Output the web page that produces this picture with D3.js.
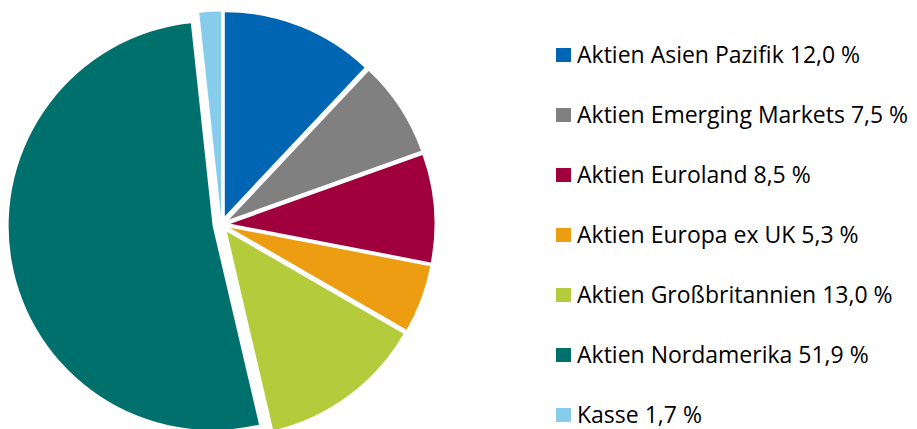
<!DOCTYPE html>
<html>

<head>
  <meta charset="utf-8">
  <style>
    body,
    html {
      margin: 0;
      padding: 0;
      background: #fff;
    }

    svg {
      display: block;
    }

    .legend text {
      font-family: "Open Sans", "Noto Sans", sans-serif;
      font-variant-ligatures: none;
      fill: #000;
    }
  </style>
</head>

<body>

  <svg id="svg" width="917" height="429"></svg>

  <script src="https://d3js.org/d3.v7.min.js"></script>

  <script>
    const names = ['Aktien Asien Pazifik', 'Aktien Emerging Markets', 'Aktien Euroland', 'Aktien Europa ex UK',
      'Aktien Gro\u00dfbritannien', 'Aktien Nordamerika', 'Kasse']
    const shares = [12.0, 7.5, 8.5, 5.3, 13.0, 51.9, 1.7]
    const labels = ['12,0 %', '7,5 %', '8,5 %', '5,3 %', '13,0 %', '51,9 %', '1,7 %']
    const colors = ['#0066b3', '#808080', '#a0003c', '#ec9d12', '#b4cb3c', '#00706c', '#87cdeb']

    const width = 917
    const height = 429
    const cx = 221.5
    const cy = 224.5
    const radius = 204
    const explode = 9

    const data = names.map((name, i) => ({ name, value: shares[i], label: labels[i], color: colors[i] }))

    const svg = d3.select("#svg")

    const pie = d3.pie()
      .sort(null)
      .value(d => d.value)

    const arc = d3.arc()
      .innerRadius(0)
      .outerRadius(radius)

    const graph = svg.append("g")
      .attr("transform", `translate(${cx}, ${cy})`)

    graph.selectAll("path")
      .data(pie(data))
      .join("path")
      .attr("d", arc)
      .attr("fill", d => d.data.color)
      .attr("transform", d => {
        const mid = (d.startAngle + d.endAngle) / 2
        return `translate(${explode * Math.sin(mid)}, ${-explode * Math.cos(mid)})`
      })

    // legend
    const legendY = d3.scalePoint()
      .domain(names)
      .range([55, 415])

    const legend = svg.append("g").attr("class", "legend")

    const rows = legend.selectAll("g")
      .data(data)
      .join("g")
      .attr("transform", d => `translate(556, ${legendY(d.name)})`)

    rows.append("rect")
      .attr("x", 0)
      .attr("y", -7)
      .attr("width", 15)
      .attr("height", 14)
      .attr("fill", d => d.color)

    const texts = rows.append("text")
      .attr("transform", "translate(21, 7.5)")
      .style("font-size", "23px")
      .text(d => `${d.name} ${d.label}`)

    // Calibri is narrower than the fonts we have: squeeze to the original width
    const longest = d3.max(texts.nodes(), n => n.getComputedTextLength())
    const sx = Math.min(1, 337 / longest)
    texts.attr("transform", `translate(21, 7.5) scale(${sx}, 1)`)
  </script>

</body>

</html>
